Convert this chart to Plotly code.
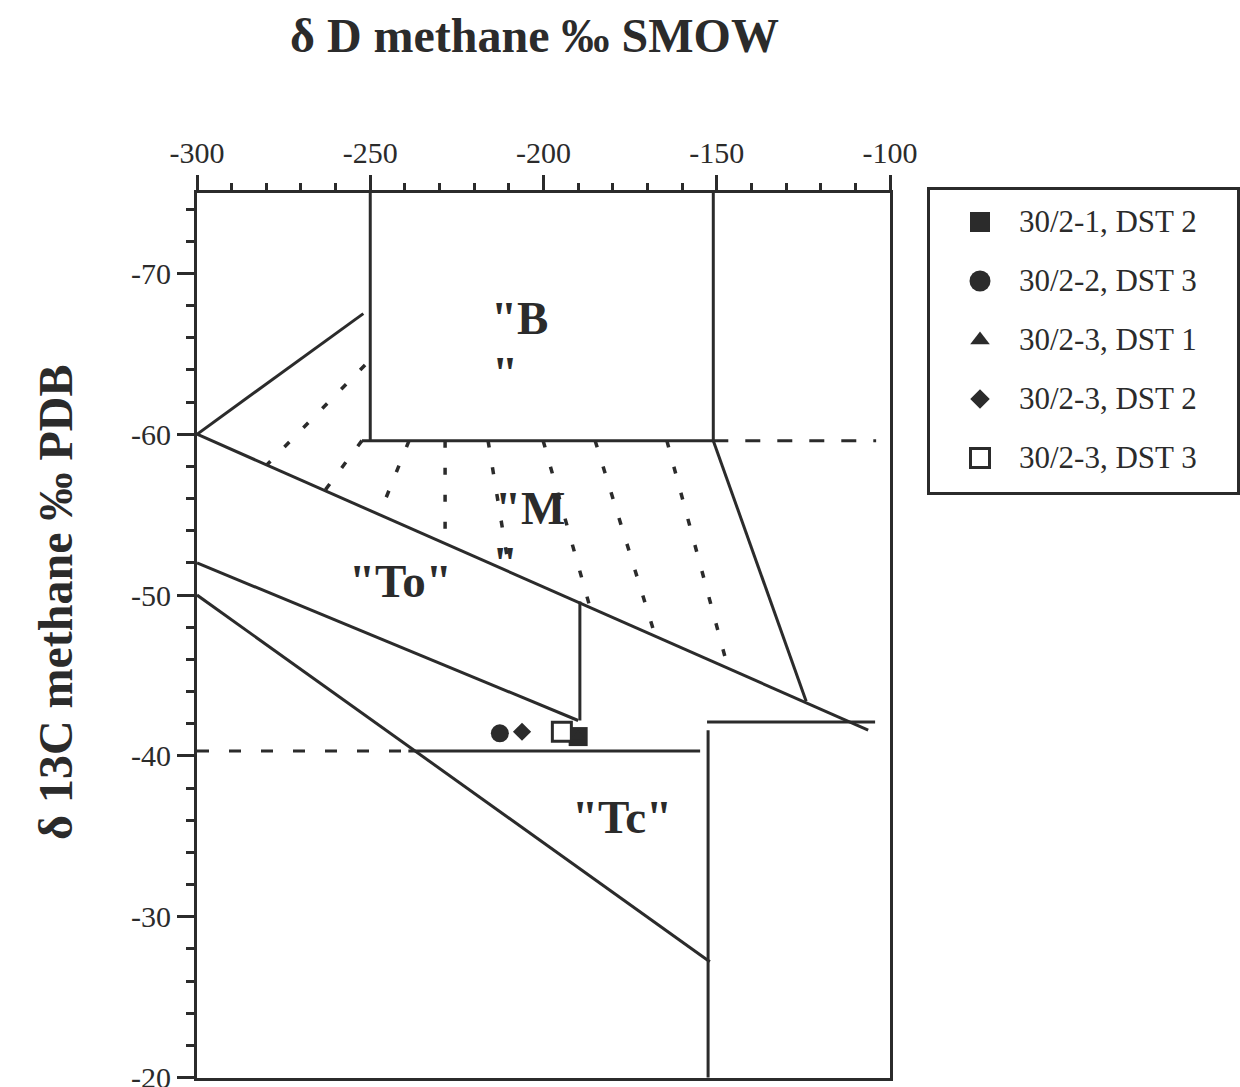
import plotly.graph_objects as go

# ---- Sample data: δD (‰ SMOW) vs δ13C (‰ PDB) of methane ----
sample_names = ["30/2-1, DST 2", "30/2-2, DST 3", "30/2-3, DST 1", "30/2-3, DST 2", "30/2-3, DST 3"]
sample_dD = [-190.0, -212.6, -190.0, -206.2, -194.7]
sample_d13C = [-41.2, -41.4, -41.2, -41.5, -41.5]
sample_symbols = ["square", "circle", "triangle-up", "diamond", "square"]
sample_filled = [True, True, True, True, False]
plot_sizes = [19, 18, 13, 14, 19]
key_sizes = [20, 21, 17, 15, 19]

# ---- Axis ticks ----
x_tickvals = [-300, -250, -200, -150, -100]
x_ticktext = ["-300", "-250", "-200", "-150", "-100"]
y_tickvals = [-70, -60, -50, -40, -30, -20]
y_ticktext = ["-70", "-60", "-50", "-40", "-30", "-20"]

# ---- Genetic field boundaries (solid), each as an x/y pair ----
b_left_x, b_left_y = [-250, -250], [-75, -59.6]
b_right_x, b_right_y = [-151, -151], [-75, -59.6]
b_base_x, b_base_y = [-252.4, -151], [-59.6, -59.6]
wedge_upper_x, wedge_upper_y = [-300, -252], [-60, -67.5]
thermo_upper_x, thermo_upper_y = [-300, -106.3], [-60, -41.6]
mixed_right_x, mixed_right_y = [-151, -124.2], [-59.6, -43.4]
to_upper_x, to_upper_y = [-300, -190], [-52, -42.2]
to_step_x, to_step_y = [-189.5, -189.5], [-49.6, -42.2]
lower_diag_x, lower_diag_y = [-300, -152], [-50, -27.2]
tc_top_x, tc_top_y = [-239, -154.8], [-40.3, -40.3]
tc_right_x, tc_right_y = [-152.5, -152.5], [-41.6, -20]
tc_shelf_x, tc_shelf_y = [-152.8, -104.3], [-42.1, -42.1]

# ---- Dashed extensions ----
dash_60_x, dash_60_y = [-151, -104], [-59.6, -59.6]
dash_40_x, dash_40_y = [-300, -239], [-40.3, -40.3]

# ---- Dotted mixing fan inside the "M" field ----
fan_top_x = [-251.5, -252.4, -238.8, -228.4, -216.0, -200.1, -185.1, -164.4]
fan_top_y = [-64.3, -59.6, -59.6, -59.6, -59.6, -59.6, -59.6, -59.6]
fan_bot_x = [-279.8, -263.1, -247.4, -228.4, -209.8, -186.6, -167.8, -146.8]
fan_bot_y = [-58.1, -56.5, -55.0, -53.2, -51.45, -49.25, -47.5, -45.5]

# ---- Field labels ----
field_text = ['"B', '"', '"M', '"', '"To"', '"Tc"']
field_x = [-206.8, -211.1, -203.9, -211.1, -241.4, -177.3]
field_y = [-67.23, -63.8, -55.42, -52.0, -50.9, -36.2]

INK = "#2b2b2b"
SERIF = "Liberation Serif, Times New Roman, serif"
W, H = 1240, 1087
# plotting area in pixels (main axes + key share it)
L, R, T, B = 197, 3, 190, 9
PW, PH = W - L - R, H - T - B


def px_x(p):
    return (p - L) / PW


def px_y(p):
    return (H - B - p) / PH


fig = go.Figure()

solid_segments = [
    (b_left_x, b_left_y), (b_right_x, b_right_y), (b_base_x, b_base_y),
    (wedge_upper_x, wedge_upper_y), (thermo_upper_x, thermo_upper_y),
    (mixed_right_x, mixed_right_y), (to_upper_x, to_upper_y),
    (to_step_x, to_step_y), (lower_diag_x, lower_diag_y),
    (tc_top_x, tc_top_y), (tc_right_x, tc_right_y), (tc_shelf_x, tc_shelf_y),
]
for xs, ys in solid_segments:
    fig.add_trace(go.Scatter(x=xs, y=ys, mode="lines", showlegend=False,
                             hoverinfo="skip", line=dict(color=INK, width=3)))

fig.add_trace(go.Scatter(x=dash_60_x, y=dash_60_y, mode="lines", showlegend=False,
                         hoverinfo="skip", line=dict(color=INK, width=3, dash="15px,17px")))
fig.add_trace(go.Scatter(x=dash_40_x, y=dash_40_y, mode="lines", showlegend=False,
                         hoverinfo="skip", line=dict(color=INK, width=3, dash="12px,20px")))

for x0, y0, x1, y1 in zip(fan_top_x, fan_top_y, fan_bot_x, fan_bot_y):
    fig.add_trace(go.Scatter(x=[x0, x1], y=[y0, y1], mode="lines", showlegend=False,
                             hoverinfo="skip", line=dict(color=INK, width=3.5, dash="7px,20px")))


def marker_style(i, size):
    filled = sample_filled[i]
    return dict(symbol=sample_symbols[i], size=size,
                color=INK if filled else "white",
                line=dict(color=INK, width=0 if filled else 3))


# sample points on the main axes
for i in range(len(sample_names)):
    fig.add_trace(go.Scatter(x=[sample_dD[i]], y=[sample_d13C[i]], mode="markers",
                             name=sample_names[i], showlegend=False,
                             marker=marker_style(i, plot_sizes[i])))

# key: one row per sample on its own small axes
for i in range(len(sample_names)):
    row = i + 1
    fig.add_trace(go.Scatter(x=[50], y=[row], mode="markers", xaxis="x2", yaxis="y2",
                             name=sample_names[i], showlegend=False, hoverinfo="skip",
                             marker=marker_style(i, key_sizes[i])))
    fig.add_annotation(x=87, y=row, xref="x2", yref="y2", text=sample_names[i],
                       showarrow=False, xanchor="left", yanchor="middle",
                       font=dict(family=SERIF, size=31, color=INK))

for t, x, y in zip(field_text, field_x, field_y):
    fig.add_annotation(x=x, y=y, text=t, showarrow=False,
                       xanchor="center", yanchor="middle",
                       font=dict(family=SERIF, size=47, color=INK, weight="bold"))

# axis titles
fig.add_annotation(x=px_x(534), y=px_y(35), xref="paper", yref="paper",
                   xanchor="center", yanchor="middle",
                   text="δ D methane ‰ SMOW", showarrow=False,
                   font=dict(family=SERIF, size=48, color=INK, weight="bold"))
fig.add_annotation(x=px_x(55), y=px_y(602), xref="paper", yref="paper",
                   xanchor="center", yanchor="middle",
                   text="δ 13C methane ‰ PDB", showarrow=False, textangle=-90,
                   font=dict(family=SERIF, size=48, color=INK, weight="bold"))

tick_font = dict(family=SERIF, size=30, color=INK)

fig.update_layout(
    width=W, height=H,
    margin=dict(l=L, r=R, t=T, b=B, autoexpand=False),
    paper_bgcolor="white", plot_bgcolor="white",
    font=dict(family=SERIF, color=INK),
    showlegend=False,
    xaxis=dict(
        domain=[0, px_x(890)], anchor="y", automargin=False,
        side="top", range=[-300, -100], tickvals=x_tickvals, ticktext=x_ticktext,
        showgrid=False, zeroline=False, showline=True, linewidth=3, linecolor=INK,
        mirror=True, ticks="outside", ticklen=15, tickwidth=3, tickcolor=INK,
        tickfont=tick_font, ticklabeloverflow="allow",
        minor=dict(dtick=10, tick0=-300, ticks="outside", ticklen=7, tickwidth=3,
                   tickcolor=INK, showgrid=False),
    ),
    yaxis=dict(
        domain=[0, px_y(193)], anchor="x", automargin=False,
        range=[-19.97, -75], tickvals=y_tickvals, ticktext=y_ticktext,
        showgrid=False, zeroline=False, showline=True, linewidth=3, linecolor=INK,
        mirror=True, ticks="outside", ticklen=17, tickwidth=3, tickcolor=INK,
        tickfont=tick_font, ticklabeloverflow="allow",
        minor=dict(dtick=2, tick0=-70, ticks="outside", ticklen=8, tickwidth=3,
                   tickcolor=INK, showgrid=False),
    ),
    xaxis2=dict(
        domain=[px_x(930), px_x(1237)], anchor="y2", range=[0, 307], automargin=False,
        showgrid=False, zeroline=False, showticklabels=False, ticks="",
        showline=True, linewidth=2.5, linecolor=INK, mirror=True,
    ),
    yaxis2=dict(
        domain=[px_y(492), px_y(190)], anchor="x2", range=[5.577, 0.458], automargin=False,
        showgrid=False, zeroline=False, showticklabels=False, ticks="",
        showline=True, linewidth=2.5, linecolor=INK, mirror=True,
    ),
)

fig.write_html("out.html")
